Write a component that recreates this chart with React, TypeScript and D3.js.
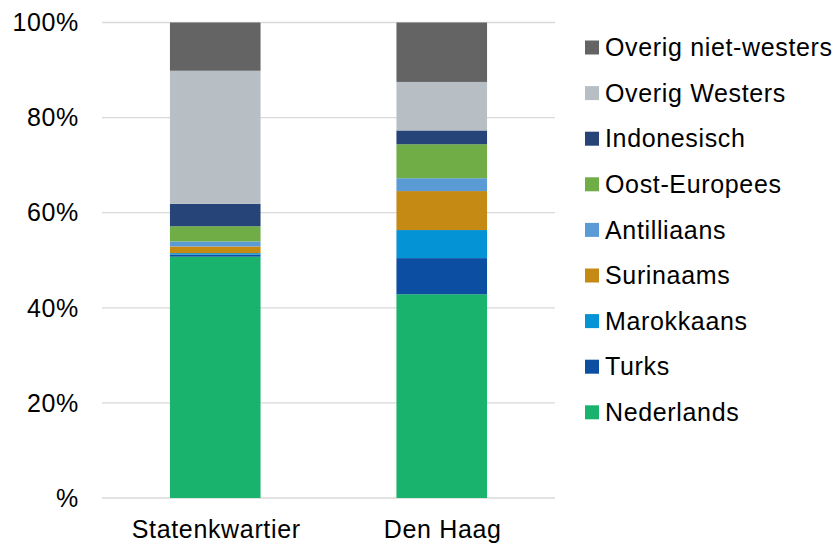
import React, { useEffect, useRef } from "react";
import * as d3 from "d3";

const categories = ["Statenkwartier", "Den Haag"];
const groups = [
  "Nederlands",
  "Turks",
  "Marokkaans",
  "Surinaams",
  "Antilliaans",
  "Oost-Europees",
  "Indonesisch",
  "Overig Westers",
  "Overig niet-westers",
];
const statenkwartier = [50.75, 0.45, 0.3, 1.4, 1.05, 3.2, 4.7, 28.0, 10.15];
const denHaag = [42.85, 7.6, 5.9, 8.2, 2.7, 7.15, 2.9, 10.2, 12.5];
const colors = [
  "#1ab36e",
  "#0b4ea2",
  "#0493d5",
  "#c58a13",
  "#5b9bd5",
  "#70ad47",
  "#264478",
  "#b7bfc5",
  "#646464",
];
const yTicks = [0, 20, 40, 60, 80, 100];

const App = () => {
  const ref = useRef<SVGSVGElement>(null);

  useEffect(() => {
    const width = 835;
    const height = 543;
    const left = 102;
    const right = 555;
    const top = 22.5;
    const bottom = 498;
    const font = "'Liberation Sans', Arial, sans-serif";
    const fontSize = 25;
    const spacing = "0.65px";

    const svg = d3.select(ref.current);
    svg.selectAll("*").remove();
    svg.attr("width", width).attr("height", height);

    const x = d3.scaleBand().domain(categories).range([left, right]).padding(0);
    const y = d3.scaleLinear().domain([0, 100]).range([bottom, top]);
    const barWidth = x.bandwidth() * 0.4;

    // gridlines
    svg.selectAll("line.grid")
      .data(yTicks)
      .enter()
      .append("line")
      .attr("x1", left)
      .attr("x2", right)
      .attr("y1", (d) => y(d))
      .attr("y2", (d) => y(d))
      .attr("stroke", "#d9d9d9")
      .attr("stroke-width", 1.3);

    // y labels
    svg.selectAll("text.ytick")
      .data(yTicks)
      .enter()
      .append("text")
      .attr("x", 79)
      .attr("y", (d) => y(d))
      .attr("dy", "0.35em")
      .attr("text-anchor", "end")
      .attr("font-family", font)
      .attr("font-size", fontSize)
      .attr("letter-spacing", spacing)
      .attr("fill", "#000")
      .text((d) => (d === 0 ? "%" : d + "%"));

    const rows = categories.map((c, i) => {
      const vals = i === 0 ? statenkwartier : denHaag;
      const row: any = { cat: c };
      groups.forEach((g, j) => (row[g] = vals[j]));
      return row;
    });
    const series = d3.stack().keys(groups)(rows);

    svg.selectAll("g.layer")
      .data(series)
      .enter()
      .append("g")
      .attr("fill", (d, i) => colors[i])
      .selectAll("rect")
      .data((d) => d)
      .enter()
      .append("rect")
      .attr("x", (d: any) => x(d.data.cat)! + (x.bandwidth() - barWidth) / 2)
      .attr("y", (d) => y(d[1]))
      .attr("width", barWidth)
      .attr("height", (d) => y(d[0]) - y(d[1]));

    // x labels
    svg.selectAll("text.xtick")
      .data(categories)
      .enter()
      .append("text")
      .attr("x", (d) => x(d)! + x.bandwidth() / 2 + 1)
      .attr("y", 538)
      .attr("text-anchor", "middle")
      .attr("font-family", font)
      .attr("font-size", fontSize)
      .attr("letter-spacing", spacing)
      .attr("fill", "#000")
      .text((d) => d);

    // legend, top entry is the last series
    const legend = svg.selectAll("g.legend")
      .data(groups.slice().reverse())
      .enter()
      .append("g")
      .attr("transform", (d, i) => `translate(585, ${47.5 + i * 45.6})`);

    legend.append("rect")
      .attr("x", 0)
      .attr("y", -7)
      .attr("width", 14)
      .attr("height", 14)
      .attr("fill", (d) => colors[groups.indexOf(d)]);

    legend.append("text")
      .attr("x", 20)
      .attr("y", 0)
      .attr("dy", "0.35em")
      .attr("font-family", font)
      .attr("font-size", fontSize)
      .attr("letter-spacing", spacing)
      .attr("fill", "#000")
      .text((d) => d);
  }, []);

  return (
    <div style={{ position: "absolute", left: 0, top: 0 }}>
      <svg ref={ref} style={{ display: "block", background: "#fff" }} />
    </div>
  );
};

export default App;
